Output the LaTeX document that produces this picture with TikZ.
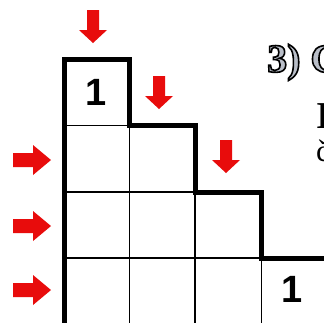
\documentclass[tikz,border=0pt]{standalone}
\usepackage{fontspec}
\setmainfont{Liberation Serif}
\newfontfamily\digitfont{Liberation Sans}
\definecolor{arrowred}{RGB}{232,12,12}
\definecolor{outlinegray}{RGB}{185,190,200}
\newcommand{\outlinetext}[1]{\special{pdf:literal direct 2 Tr 1.6 w 0 0 0 RG}#1\special{pdf:literal direct 0 Tr}}
\tikzset{
  thinline/.style={line width=1.8pt, black},
  thickline/.style={line width=5pt, black, line join=miter},
  digit/.style={font=\digitfont\bfseries\fontsize{38}{38}\selectfont, inner sep=0pt},
  downarrow/.pic={\fill[arrowred] (-6,0) -- (6,0) -- (6,20) -- (14,20) -- (0,33) -- (-14,20) -- (-6,20) -- cycle;},
  rightarrow/.pic={\fill[arrowred] (0,-7) -- (20,-7) -- (20,-15) -- (38,0) -- (20,15) -- (20,7) -- (0,7) -- cycle;}
}
\begin{document}
\begin{tikzpicture}[x=1pt,y=-1pt]
\useasboundingbox (0,0) rectangle (324,322);
\clip (0,0) rectangle (324,322);
\fill[white] (0,0) rectangle (324,322);
% thin interior lines
\draw[thinline] (64.5,125.5) -- (129.5,125.5);
\draw[thinline] (64.5,192) -- (195,192);
\draw[thinline] (64.5,258) -- (261.5,258);
\draw[thinline] (64.5,323.5) -- (340,323.5);
\draw[thinline] (129.5,125.5) -- (129.5,330);
\draw[thinline] (195,192) -- (195,330);
\draw[thinline] (261.5,258) -- (261.5,330);
% thick staircase outline
\draw[thickline] (64.5,330) -- (64.5,59.5) -- (129.5,59.5) -- (129.5,125.5) -- (195,125.5) -- (195,192) -- (261.5,192) -- (261.5,258) -- (340,258);
% digits
\node[digit] (n1) at (96,92.5) {1};
\node[digit] (n2) at (292.5,289.5) {1};
% arrows
\pic at (93,10) {downarrow};
\pic at (159,76) {downarrow};
\pic at (226,140) {downarrow};
\pic at (13,160) {rightarrow};
\pic at (13,226) {rightarrow};
\pic at (13,290) {rightarrow};
% text at right
\node[anchor=base west, inner sep=0pt, text=black, font=\bfseries\fontsize{38}{38}\selectfont] (ti) at (316,128) {I};
\node[anchor=base west, inner sep=0pt, text=black, font=\fontsize{31}{31}\selectfont] (tc) at (316,161) {č};
\node[anchor=base west, inner sep=0pt, text=outlinegray, font=\bfseries\fontsize{40}{40}\selectfont] (title) at (267,72) {\outlinetext{3) C}};
\end{tikzpicture}
\end{document}
